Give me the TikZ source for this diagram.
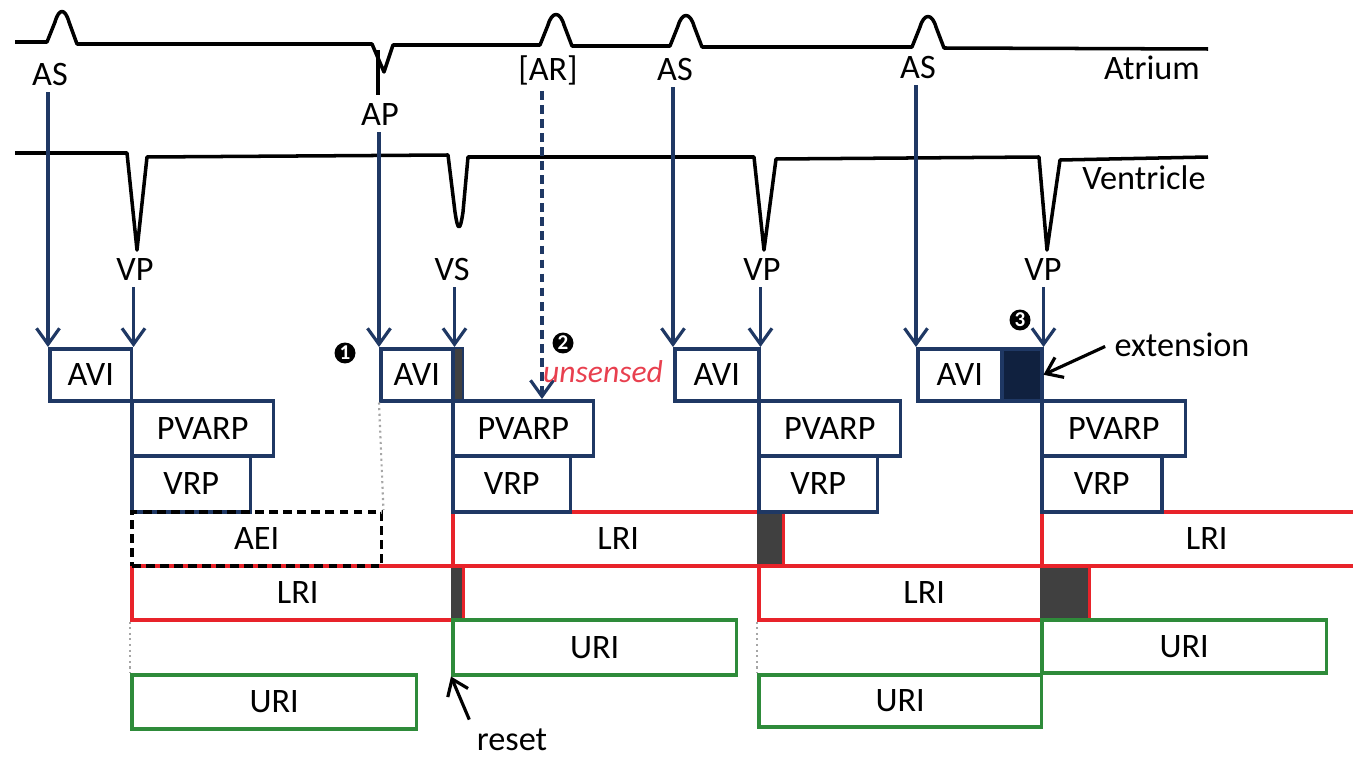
\documentclass[tikz,border=0pt]{standalone}
\usepackage{fontspec}
\setmainfont{Carlito}
\usepackage{xcolor}
\usetikzlibrary{arrows.meta}

\definecolor{navy}{HTML}{1F3864}
\definecolor{lrired}{HTML}{E8232A}
\definecolor{urigreen}{HTML}{2E8B3A}
\definecolor{shade}{HTML}{404040}
\definecolor{extnavy}{HTML}{10213F}
\definecolor{pinkred}{HTML}{E8404F}

\tikzset{
  wave/.style={line width=2pt, line join=round},
  sig/.style={draw=navy, line width=1.8pt, -{Straight Barb[length=3.2mm,width=4.6mm]}},
  ptr/.style={draw=black, line width=1.8pt, -{Straight Barb[length=3mm,width=4.4mm]}},
  tbox/.style={draw=navy, line width=2pt, rectangle, inner sep=0pt, anchor=north west},
  lbox/.style={tbox, draw=lrired},
  ubox/.style={tbox, draw=urigreen},
  shadebox/.style={fill=shade, rectangle, inner sep=0pt, anchor=north west},
  guide/.style={draw=gray!70, line width=1.2pt, dotted},
  numdot/.style={circle, fill=black, text=white, inner sep=0pt, minimum size=0.42cm,
    font=\bfseries\fontsize{12}{12}\selectfont}
}

\begin{document}
\begin{tikzpicture}[x=0.02cm, y=-0.02cm, font=\fontsize{19.5}{22}\selectfont]
\useasboundingbox (0,0) rectangle (1353,760);

% atrium and ventricle traces
\draw[wave] (15,42) -- (47,42) -- (55,22) .. controls (59,8) and (65,8) .. (69,22) -- (77,44)
  -- (372,44) -- (384,72) -- (393,45)
  -- (540,45) -- (548,25) .. controls (552,11) and (560,11) .. (564,25) -- (572,46)
  -- (670,46) -- (678,26) .. controls (682,12) and (690,12) .. (694,26) -- (702,47)
  -- (912,47) -- (920,27) .. controls (924,13) and (932,13) .. (936,27) -- (944,48)
  -- (1208,49);
\draw[wave] (378,50) -- (378,95);
\draw[wave] (15,153) -- (127,153) -- (137,250) -- (147,157)
  -- (448,155) -- (455,212) .. controls (458,232) and (460,232) .. (463,212) -- (468,157)
  -- (754,157) -- (764,250) -- (776,159)
  -- (1039,157) -- (1047,250) -- (1060,160) -- (1208,157);

\node (atr) at (1152,68) {Atrium};
\node (ven) at (1144,178) {Ventricle};
\node (as1) at (50,75) {AS};
\node (ap) at (380,115) {AP};
\node (ar) at (548,70) {[AR]};
\node (as2) at (675,70) {AS};
\node (as3) at (918,68) {AS};
\node (vp1) at (135,270) {VP};
\node (vs) at (452,270) {VS};
\node (vp2) at (762,270) {VP};
\node (vp3) at (1043,270) {VP};

% shaded parts
\node[shadebox, draw=navy, line width=1pt, minimum width=0.22cm, minimum height=1.04cm] (avi2x) at (451,347) {};
\node[shadebox, minimum width=0.5cm, minimum height=1.08cm] (lriax) at (757,510) {};
\node[shadebox, minimum width=0.22cm, minimum height=1.08cm] (lri1x) at (451,564) {};
\node[shadebox, minimum width=0.96cm, minimum height=1.08cm] (lri2x) at (1040,564) {};
\node[tbox, fill=extnavy, minimum width=0.8cm, minimum height=1.04cm] (ext) at (1000,347) {};

% LRI
\node[lbox, minimum width=6.62cm, minimum height=1.08cm] (lria) at (451,510) {LRI};
\node[lbox, minimum width=6.6cm, minimum height=1.08cm] (lric) at (1040,510) {LRI};
\node[lbox, minimum width=6.64cm, minimum height=1.08cm] (lri1) at (130,564) {LRI};
\node[lbox, minimum width=6.62cm, minimum height=1.08cm] (lri2) at (757,564) {LRI};

% URI
\node[ubox, minimum width=5.68cm, minimum height=1.1cm] (uri2) at (451,618) {URI};
\node[ubox, minimum width=5.7cm, minimum height=1.06cm] (uri4) at (1040,618) {URI};
\node[ubox, minimum width=5.7cm, minimum height=1.08cm] (uri1) at (130,673) {URI};
\node[ubox, minimum width=5.66cm, minimum height=1.04cm] (uri3) at (757,673) {URI};

% AVI, PVARP, VRP
\node[tbox, minimum width=1.64cm, minimum height=1.04cm] (avi1) at (48,347) {AVI};
\node[tbox, minimum width=1.44cm, minimum height=1.04cm] (avi2) at (379,347) {AVI};
\node[tbox, minimum width=1.68cm, minimum height=1.04cm] (avi3) at (673,347) {AVI};
\node[tbox, minimum width=1.68cm, minimum height=1.04cm] (avi4) at (916,347) {AVI};

\node[tbox, minimum width=2.84cm, minimum height=1.1cm] (pvarp1) at (130,399) {PVARP};
\node[tbox, minimum width=2.82cm, minimum height=1.1cm] (pvarp2) at (451,399) {PVARP};
\node[tbox, minimum width=2.84cm, minimum height=1.1cm] (pvarp3) at (757,399) {PVARP};
\node[tbox, minimum width=2.88cm, minimum height=1.1cm] (pvarp4) at (1040,399) {PVARP};

\node[tbox, minimum width=2.38cm, minimum height=1.12cm] (vrp1) at (130,454) {VRP};
\node[tbox, minimum width=2.36cm, minimum height=1.12cm] (vrp2) at (451,454) {VRP};
\node[tbox, minimum width=2.38cm, minimum height=1.12cm] (vrp3) at (757,454) {VRP};
\node[tbox, minimum width=2.4cm, minimum height=1.12cm] (vrp4) at (1040,454) {VRP};

\node[tbox, draw=black, dash pattern=on 5pt off 3pt, minimum width=5cm, minimum height=1.08cm] (aei) at (130,510) {AEI};

\draw[guide] (avi2.south west) -- (aei.north east);
\draw[guide] (lri1.south west) -- (uri1.north west);
\draw[guide] (lri2.south west) -- (uri3.north west);

% sensed / paced events
\draw[sig] (avi1.north west |- as1.south) -- (avi1.north west);
\draw[sig] (avi1.north east |- vp1.south) -- (avi1.north east);
\draw[sig] (avi2.north west |- ap.south) -- (avi2.north west);
\draw[sig] (avi2.north east |- vs.south) -- (avi2.north east);
\draw[sig, dash pattern=on 5pt off 3pt] ([xshift=-0.12cm]ar.south) -- ([xshift=-0.12cm]ar.south |- pvarp2.north);
\draw[sig] (avi3.north west |- as2.south) -- (avi3.north west);
\draw[sig] (avi3.north east |- vp2.south) -- (avi3.north east);
\draw[sig] (avi4.north west |- as3.south) -- (avi4.north west);
\draw[sig] (ext.north east |- vp3.south) -- (ext.north east);

% notes
\node[numdot] (n1) at (345,353) {1};
\node[numdot] (n2) at (563,343) {2};
\node[numdot] (n3) at (1020,320) {3};
\node[text=pinkred, font=\itshape\fontsize{18}{20}\selectfont] (unsensed) at (603,372) {unsensed};
\node (extlbl) at (1182,345) {extension};
\node (reset) at (512,740) {reset};
\draw[ptr, shorten <=2pt] (extlbl.west) -- (ext.east);
\draw[ptr, shorten <=2pt] (reset.north west) -- (uri2.south west);
\end{tikzpicture}
\end{document}
